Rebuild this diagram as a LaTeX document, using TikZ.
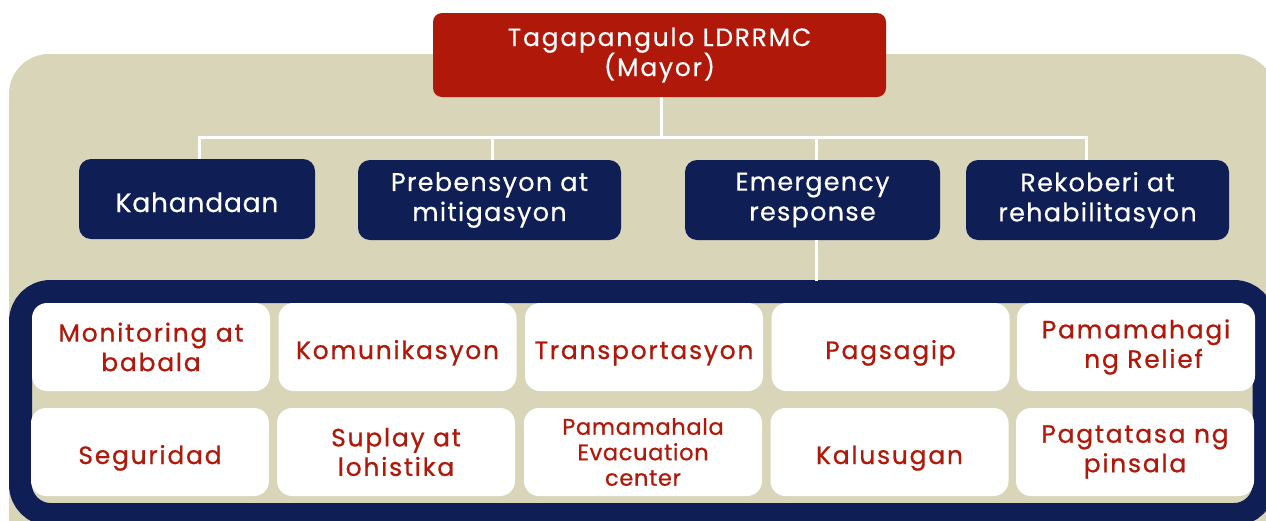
\documentclass[tikz,border=0pt]{standalone}
\usepackage{fontspec}
\setmainfont{Poppins}
\newfontfamily\topfont[LetterSpace=7,FakeBold=0.4]{Poppins}
\newfontfamily\darkfont[LetterSpace=5,FakeBold=0.4]{Poppins}
\newfontfamily\kahfont[LetterSpace=3,FakeBold=0.4]{Poppins}
\newfontfamily\whitefont[LetterSpace=7,FakeBold=0.7]{Poppins}
\newfontfamily\evacfont[LetterSpace=3,FakeBold=0.7]{Poppins}
\definecolor{redbox}{HTML}{B0180A}
\definecolor{navy}{HTML}{0F1E55}
\definecolor{beige}{HTML}{D9D5B9}
\lineskiplimit=-30pt
\lineskip=0pt
\begin{document}
\begin{tikzpicture}[x=1pt,y=-1pt,
  redbox/.style={fill=redbox,text=white,rounded corners=9pt,align=center,inner sep=0pt,
    font=\topfont\fontsize{25}{30}\selectfont},
  darkbox/.style={fill=navy,text=white,rounded corners=12pt,align=center,inner sep=0pt,
    minimum height=80pt,font=\darkfont\fontsize{25.5}{30}\selectfont},
  whitebox/.style={fill=white,text=redbox,rounded corners=15pt,align=center,inner sep=0pt,
    minimum width=238pt,minimum height=88pt,font=\whitefont\fontsize{25}{29.5}\selectfont},
  oneline/.style={text height=24pt,text depth=0pt},
  conn/.style={draw=white,line width=3pt}]
\useasboundingbox (0,0) rectangle (1266,520);
\begin{scope}
\clip (0,0) rectangle (1266,520);
\fill[beige,rounded corners=40pt] (9,54) rectangle (1275,600);
\draw[navy,fill=beige,line width=23pt,rounded corners=30pt] (20.5,291.5) rectangle (1264,514.5);
\end{scope}
% top
\node[redbox,minimum width=453pt,minimum height=84pt] (top) at (659.5,55) {Tagapangulo LDRRMC\\(Mayor)};
\node[darkbox,minimum width=236pt,text height=26pt,text depth=0pt,
  font=\kahfont\fontsize{26.5}{30}\selectfont] (k) at (197,199) {Kahandaan};
\node[darkbox,minimum width=263pt] (p) at (489.5,200) {Prebensyon at\\mitigasyon};
\node[darkbox,minimum width=255pt] (e) at (812.5,200) {Emergency\\response};
\node[darkbox,minimum width=263pt] (r) at (1097.5,200) {Rekoberi at\\rehabilitasyon};
% connectors
\draw[conn] ([xshift=1.5pt]top.south) -- ++(0,41);
\draw[conn] ([xshift=2pt]k.north) -- ++(0,-21) -| ([xshift=-11pt]r.north);
\draw[conn] ([xshift=2.5pt]p.north) -- ++(0,-22);
\draw[conn] ([xshift=3.5pt]e.north) -- ++(0,-22);
\draw[conn] ([xshift=3.5pt]e.south) -- ++(0,41);
% white boxes
\node[whitebox] (w11) at (151,347) {Monitoring at\\babala};
\node[whitebox,oneline] (w12) at (397.5,347) {Komunikasyon};
\node[whitebox,oneline] (w13) at (644,347) {Transportasyon};
\node[whitebox,oneline] (w14) at (890.5,347) {Pagsagip};
\node[whitebox] (w15) at (1136,347) {Pamamahagi\\\hspace*{0.6em}ng Relief};
\node[whitebox,oneline] (w21) at (150,452) {Seguridad};
\node[whitebox] (w22) at (396,452) {Suplay at\\lohistika};
\node[whitebox,font=\evacfont\fontsize{22.5}{25.5}\selectfont] (w23) at (643,452) {Pamamahala\\Evacuation\\center};
\node[whitebox,oneline] (w24) at (889.5,452) {Kalusugan};
\node[whitebox] (w25) at (1135,452) {Pagtatasa ng\\pinsala};
\end{tikzpicture}
\end{document}
